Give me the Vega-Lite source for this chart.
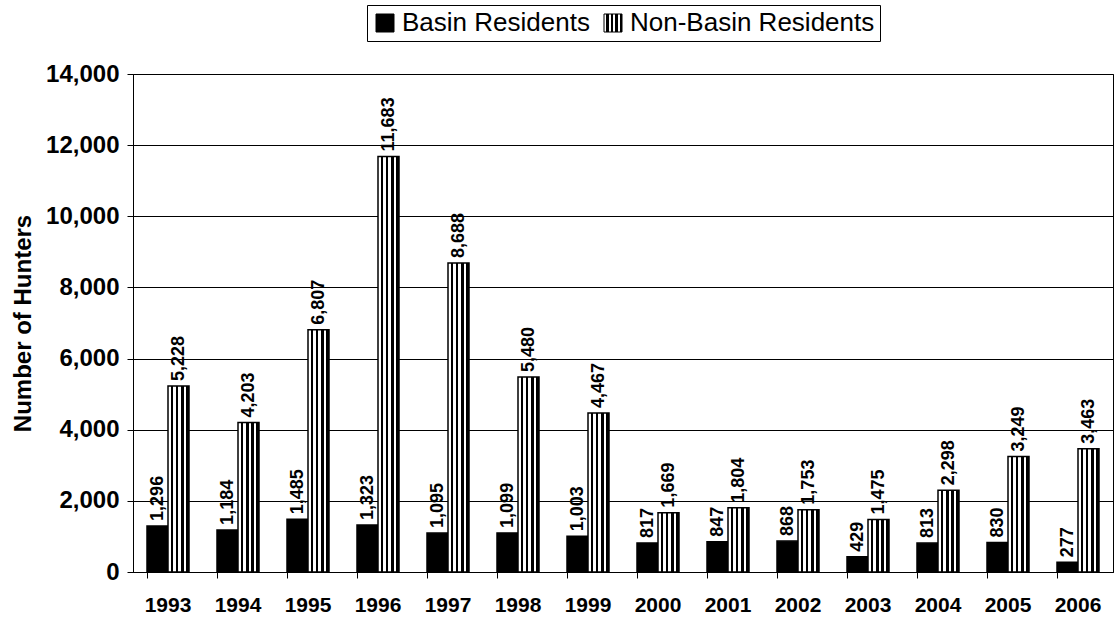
{
  "$schema": "https://vega.github.io/schema/vega-lite/v6.json",
  "width": 980,
  "height": 498,
  "autosize": {"type": "none"},
  "padding": {"left": 133, "top": 74, "right": 2, "bottom": 51},
  "background": "white",
  "config": {
    "view": {"stroke": "black", "strokeWidth": 1},
    "font": "Liberation Sans"
  },
  "data": {
    "values": [
      {"year": "1993", "series": "Basin Residents", "value": 1296},
      {"year": "1994", "series": "Basin Residents", "value": 1184},
      {"year": "1995", "series": "Basin Residents", "value": 1485},
      {"year": "1996", "series": "Basin Residents", "value": 1323},
      {"year": "1997", "series": "Basin Residents", "value": 1095},
      {"year": "1998", "series": "Basin Residents", "value": 1099},
      {"year": "1999", "series": "Basin Residents", "value": 1003},
      {"year": "2000", "series": "Basin Residents", "value": 817},
      {"year": "2001", "series": "Basin Residents", "value": 847},
      {"year": "2002", "series": "Basin Residents", "value": 868},
      {"year": "2003", "series": "Basin Residents", "value": 429},
      {"year": "2004", "series": "Basin Residents", "value": 813},
      {"year": "2005", "series": "Basin Residents", "value": 830},
      {"year": "2006", "series": "Basin Residents", "value": 277},
      {"year": "1993", "series": "Non-Basin Residents", "value": 5228},
      {"year": "1994", "series": "Non-Basin Residents", "value": 4203},
      {"year": "1995", "series": "Non-Basin Residents", "value": 6807},
      {"year": "1996", "series": "Non-Basin Residents", "value": 11683},
      {"year": "1997", "series": "Non-Basin Residents", "value": 8688},
      {"year": "1998", "series": "Non-Basin Residents", "value": 5480},
      {"year": "1999", "series": "Non-Basin Residents", "value": 4467},
      {"year": "2000", "series": "Non-Basin Residents", "value": 1669},
      {"year": "2001", "series": "Non-Basin Residents", "value": 1804},
      {"year": "2002", "series": "Non-Basin Residents", "value": 1753},
      {"year": "2003", "series": "Non-Basin Residents", "value": 1475},
      {"year": "2004", "series": "Non-Basin Residents", "value": 2298},
      {"year": "2005", "series": "Non-Basin Residents", "value": 3249},
      {"year": "2006", "series": "Non-Basin Residents", "value": 3463}
    ]
  },
  "encoding": {
    "x": {
      "field": "year",
      "type": "nominal",
      "scale": {"paddingInner": 0.4, "paddingOuter": 0.2},
      "axis": {
        "title": null,
        "labelAngle": 0,
        "labelFont": "Liberation Sans",
        "labelFontWeight": "bold",
        "labelFontSize": 21,
        "labelColor": "black",
        "labelPadding": 16,
        "tickSize": 6,
        "tickColor": "black",
        "bandPosition": 0,
        "domainColor": "black",
        "grid": false
      }
    },
    "xOffset": {"field": "series", "sort": ["Basin Residents", "Non-Basin Residents"]},
    "y": {
      "field": "value",
      "type": "quantitative",
      "scale": {"domain": [0, 14000], "nice": false},
      "axis": {
        "title": "Number of Hunters",
        "titleFont": "Liberation Sans",
        "titleFontWeight": "bold",
        "titleFontSize": 24,
        "titleColor": "black",
        "titlePadding": 10,
        "values": [0, 2000, 4000, 6000, 8000, 10000, 12000, 14000],
        "format": ",d",
        "labelFont": "Liberation Sans",
        "labelFontWeight": "bold",
        "labelFontSize": 24,
        "labelColor": "black",
        "labelPadding": 8,
        "tickSize": 6,
        "tickColor": "black",
        "domainColor": "black",
        "grid": true,
        "gridColor": "black",
        "gridOpacity": 1,
        "gridWidth": 1
      }
    }
  },
  "layer": [
    {
      "mark": {"type": "bar", "stroke": "black", "strokeWidth": 1.5},
      "encoding": {
        "fill": {
          "field": "series",
          "type": "nominal",
          "scale": {
            "domain": ["Basin Residents", "Non-Basin Residents"],
            "range": [
              "black",
              {"expr": "{gradient: 'linear', x1: 0, y1: 0, x2: 1, y2: 0, stops: [{offset: 0, color: 'white'}, {offset: 0.13, color: 'white'}, {offset: 0.13, color: 'black'}, {offset: 0.25, color: 'black'}, {offset: 0.25, color: 'white'}, {offset: 0.38, color: 'white'}, {offset: 0.38, color: 'black'}, {offset: 0.5, color: 'black'}, {offset: 0.5, color: 'white'}, {offset: 0.63, color: 'white'}, {offset: 0.63, color: 'black'}, {offset: 0.75, color: 'black'}, {offset: 0.75, color: 'white'}, {offset: 0.88, color: 'white'}, {offset: 0.88, color: 'black'}, {offset: 1, color: 'black'}]}"}
            ]
          },
          "legend": {
            "title": null,
            "orient": "none",
            "legendX": 234,
            "legendY": -69,
            "direction": "horizontal",
            "strokeColor": "black",
            "fillColor": "white",
            "padding": 5,
            "symbolType": "square",
            "symbolSize": 324,
            "symbolStrokeColor": "black",
            "symbolStrokeWidth": 1,
            "labelFont": "Liberation Sans",
            "labelFontSize": 26,
            "labelLimit": 400,
            "labelColor": "black",
            "labelOffset": 4,
            "columnPadding": 10
          }
        }
      }
    },
    {
      "mark": {
        "type": "text",
        "angle": 270,
        "align": "left",
        "baseline": "middle",
        "dx": 5,
        "font": "Liberation Sans",
        "fontWeight": "bold",
        "fontSize": 18,
        "color": "black"
      },
      "encoding": {
        "text": {"field": "value", "type": "quantitative", "format": ",d"}
      }
    }
  ]
}
